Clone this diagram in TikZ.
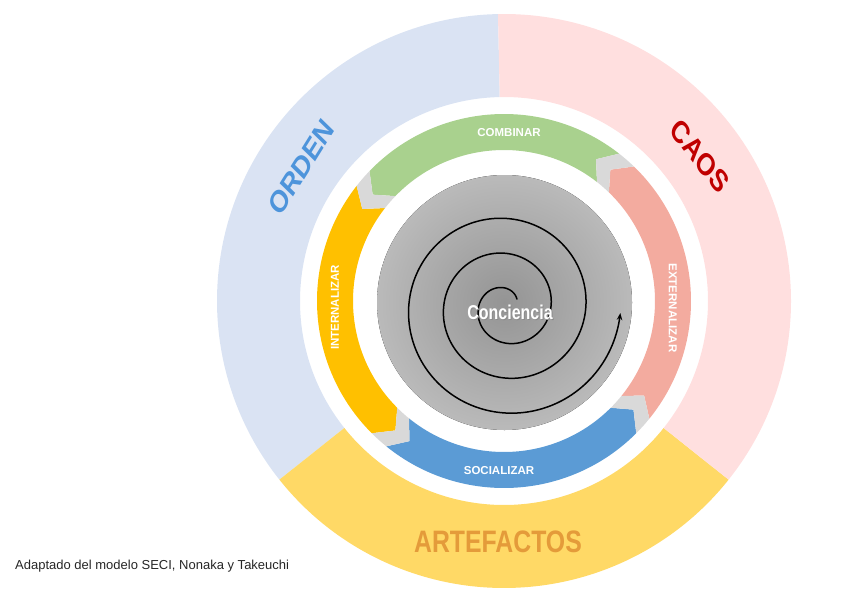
\documentclass[tikz,border=0pt]{standalone}
\usepackage{fontspec}
\setmainfont{Liberation Sans}
\usetikzlibrary{arrows.meta}
\definecolor{ringblue}{HTML}{DAE3F3}
\definecolor{ringpink}{HTML}{FFDFDF}
\definecolor{ringyellow}{HTML}{FFD966}
\definecolor{ordenc}{HTML}{4D94DB}
\definecolor{caosc}{HTML}{C00000}
\definecolor{artc}{HTML}{E49B3A}
\definecolor{seggreen}{HTML}{A9D18E}
\definecolor{segsalmon}{HTML}{F3AB9F}
\definecolor{segblue}{HTML}{5B9BD5}
\definecolor{seggold}{HTML}{FFC000}
\definecolor{chev}{HTML}{D9D9D9}
\definecolor{gin}{RGB}{148,148,148}
\definecolor{gmid}{RGB}{186,186,186}
\definecolor{gout}{RGB}{212,212,212}
\definecolor{foot}{HTML}{262626}
\pgfdeclareradialshading{concshade}{\pgfpoint{0bp}{0bp}}{color(0bp)=(gin); color(25bp)=(gmid); color(50bp)=(gout)}
% ring sector: color, start, end
\newcommand\ringsector[3]{\fill[#1] (#2:287) arc[start angle=#2,end angle=#3,radius=287] -- (#3:204) arc[start angle=#3,end angle=#2,radius=204] -- cycle;}
% arrow segment: color, tail angle, head angle
\newcommand\arrowseg[3]{\fill[#1] (#2:187) arc[start angle=#2,end angle=#3,radius=187] -- ({#3+5}:169) -- (#3:151) arc[start angle=#3,end angle=#2,radius=151] -- ({#2+5}:169) -- cycle;}
% gray chevron at angle
\newcommand\chevron[1]{\fill[chev] (#1:187) -- ({#1+5}:169) -- (#1:151) arc[start angle=#1,end angle={#1+6},radius=151] -- ({#1+11}:169) -- ({#1+6}:187) arc[start angle={#1+6},end angle=#1,radius=187] -- cycle;}
\tikzset{
  seglabel/.style={text=white, font=\bfseries\fontsize{11.5}{12}\selectfont, inner sep=0pt},
  biglabel/.style={font=\bfseries\fontsize{31}{31}\selectfont, inner sep=0pt, xscale=0.8},
}
\begin{document}
\begin{tikzpicture}[x=1pt,y=1pt]
\useasboundingbox (0,0) rectangle (856,-613);
\coordinate (O) at (504,-301);
\begin{scope}[shift={(O)}]
  \ringsector{ringblue}{91.2}{218.5}
  \ringsector{ringyellow}{218.5}{321.5}
  \ringsector{ringpink}{321.5}{451.2}
  \arrowseg{seggreen}{52}{136}
  \arrowseg{seggold}{142}{225}
  \arrowseg{segblue}{231}{315}
  \arrowseg{segsalmon}{321}{406}
  \chevron{46}
  \chevron{136}
  \chevron{225}
  \chevron{315}
  \fill[shading=concshade] (0.5,-1.5) circle[radius=127.5];
  \draw[line width=1.5pt, line cap=round, -{Stealth[length=7pt,width=5.5pt]}]
    plot[domain=36:1077, samples=500, smooth, variable=\t]
    ({2+(10+0.097*\t)*cos(\t)}, {-6+(10+0.097*\t)*sin(\t)});
\end{scope}
\node[seglabel] (comb) at (509,-133) {COMBINAR};
\node[seglabel, rotate=90] (intl) at (335,-307.5) {INTERNALIZAR};
\node[seglabel, rotate=-90] (extl) at (672.7,-308) {EXTERNALIZAR};
\node[seglabel] (soc) at (499,-470.7) {SOCIALIZAR};
\node[biglabel, text=ordenc, rotate=52] (orden) at (301,-167) {ORDEN};
\node[biglabel, text=caosc, rotate=-46] (caos) at (700,-156) {CAOS};
\node[biglabel, text=artc] (arte) at (498,-542) {ARTEFACTOS};
\node[font=\bfseries\fontsize{20}{20}\selectfont, xscale=0.8, text=black!45, inner sep=0pt] (concsh) at (511,-313.2) {Conciencia};
\node[font=\bfseries\fontsize{20}{20}\selectfont, xscale=0.8, text=white, inner sep=0pt] (conc) at (510,-312.2) {Conciencia};
\node[anchor=west, font=\fontsize{13}{13}\selectfont, text=foot, inner sep=0pt] (note) at (15,-566) {Adaptado del modelo SECI, Nonaka y Takeuchi};
\end{tikzpicture}
\end{document}
